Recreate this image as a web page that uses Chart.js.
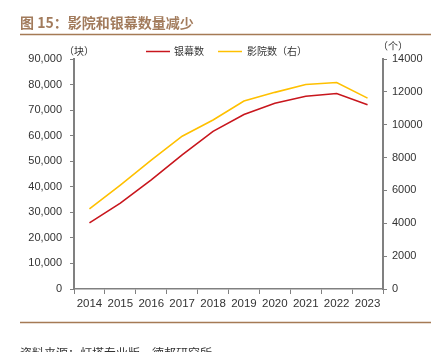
<!DOCTYPE html>
<html>
<head>
<meta charset="utf-8">
<script src="https://cdn.jsdelivr.net/npm/chart.js@4"></script>
<style>
html,body{margin:0;padding:0;background:#fff;}
#wrap{position:relative;width:442px;height:352px;overflow:hidden;}
canvas{position:absolute;left:0;top:0;}
</style>
</head>
<body>
<div id="wrap"><canvas id="c" width="442" height="352"></canvas></div>
<script>
const categories = ['2014','2015','2016','2017','2018','2019','2020','2021','2022','2023'];
const screens = [25900, 33600, 42700, 52500, 61700, 68300, 72700, 75400, 76500, 72100];
const cinemas = [4870, 6330, 7850, 9300, 10290, 11440, 11970, 12450, 12570, 11620];
const leftTicks = [0, 10000, 20000, 30000, 40000, 50000, 60000, 70000, 80000, 90000];
const rightTicks = [0, 2000, 4000, 6000, 8000, 10000, 12000, 14000];

const RED = '#C8161D';
const YELLOW = '#FFC000';
const AXIS = '#808080';
const CJK = '"Noto Sans CJK SC", sans-serif';
const LAT = '"Liberation Sans", Arial, sans-serif';

const decor = {
  id: 'decor',
  afterDraw(chart) {
    const ctx = chart.ctx;
    ctx.save();
    // title
    ctx.fillStyle = '#A27B5C';
    ctx.font = 'bold 14px ' + CJK;
    ctx.textBaseline = 'middle';
    ctx.textAlign = 'left';
    ctx.fillText('图 15：影院和银幕数量减少', 20, 23);
    // title rule
    ctx.strokeStyle = '#A57A55';
    ctx.lineWidth = 1.5;
    ctx.beginPath(); ctx.moveTo(20, 34.5); ctx.lineTo(431, 34.5); ctx.stroke();
    // bottom rule
    ctx.beginPath(); ctx.moveTo(20, 322.5); ctx.lineTo(431, 322.5); ctx.stroke();
    // units
    ctx.fillStyle = '#333';
    ctx.font = '10px ' + CJK;
    ctx.fillText('（块）', 64, 51);
    ctx.fillText('（个）', 378, 46);
    // legend
    const ds = chart.data.datasets;
    const items = [{x:146, tx:174}, {x:218, tx:247}];
    items.forEach((it, i) => {
      ctx.strokeStyle = ds[i].borderColor;
      ctx.lineWidth = 1.5;
      ctx.beginPath(); ctx.moveTo(it.x, 51.5); ctx.lineTo(it.x + 24, 51.5); ctx.stroke();
      ctx.fillStyle = '#333';
      ctx.fillText(ds[i].label, it.tx, 51);
    });
    // source
    ctx.font = '12px ' + CJK;
    ctx.fillStyle = '#333';
    ctx.fillText('资料来源：灯塔专业版，德邦研究所', 20, 353);
    ctx.restore();
  }
};

new Chart(document.getElementById('c'), {
  type: 'line',
  data: {
    labels: categories,
    datasets: [
      {label: '银幕数', data: screens, yAxisID: 'y', borderColor: RED, backgroundColor: RED, borderWidth: 1.6, pointRadius: 0, tension: 0},
      {label: '影院数（右）', data: cinemas, yAxisID: 'y1', borderColor: YELLOW, backgroundColor: YELLOW, borderWidth: 1.6, pointRadius: 0, tension: 0}
    ]
  },
  options: {
    responsive: false,
    animation: false,
    layout: {padding: {top: 59, bottom: 0, left: 0, right: 0}},
    plugins: {legend: {display: false}, tooltip: {enabled: false}, title: {display: false}},
    scales: {
      x: {
        offset: true,
        grid: {offset: true, drawOnChartArea: false, drawTicks: true, tickLength: 5, color: AXIS, lineWidth: 1},
        border: {color: AXIS, width: 1.5},
        ticks: {font: {family: LAT, size: 11.5}, color: '#333', padding: 3, maxRotation: 0, autoSkip: false},
        afterFit(s) { s.height = 63; }
      },
      y: {
        position: 'left',
        min: 0, max: 90000,
        afterBuildTicks(s) { s.ticks = leftTicks.map(v => ({value: v})); },
        ticks: {font: {family: LAT, size: 11}, color: '#333', padding: 8,
          callback: v => v.toLocaleString('en-US')},
        grid: {drawOnChartArea: false, drawTicks: true, tickLength: 4, color: AXIS, lineWidth: 1},
        border: {color: AXIS, width: 2},
        afterFit(s) { s.width = 74; }
      },
      y1: {
        position: 'right',
        min: 0, max: 14000,
        afterBuildTicks(s) { s.ticks = rightTicks.map(v => ({value: v})); },
        ticks: {font: {family: LAT, size: 11}, color: '#333', padding: 5,
          callback: v => String(v)},
        grid: {drawOnChartArea: false, drawTicks: true, tickLength: 4, color: AXIS, lineWidth: 1},
        border: {color: AXIS, width: 2},
        afterFit(s) { s.width = 59; }
      }
    }
  },
  plugins: [decor]
});
</script>
</body>
</html>
